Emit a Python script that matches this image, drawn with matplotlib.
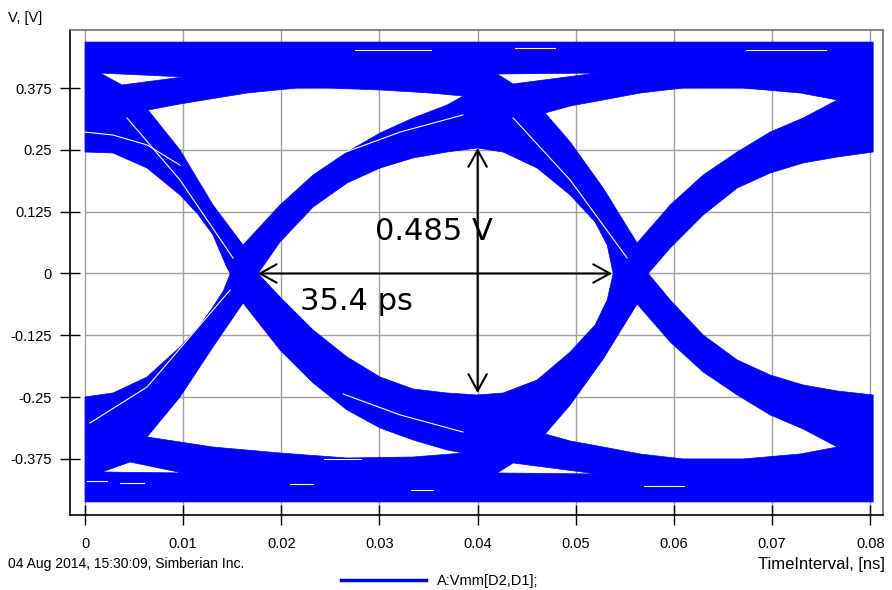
import numpy as np
import matplotlib.pyplot as plt
from matplotlib.path import Path
from matplotlib.patches import PathPatch
from matplotlib.lines import Line2D

plt.rcParams['font.family'] = ['Liberation Sans', 'DejaVu Sans']

# ticks
x_ticks = [0, 0.01, 0.02, 0.03, 0.04, 0.05, 0.06, 0.07, 0.08]
x_labels = ['0', '0.01', '0.02', '0.03', '0.04', '0.05', '0.06', '0.07', '0.08']
y_ticks = [0.375, 0.25, 0.125, 0, -0.125, -0.25, -0.375]
y_labels = ['0.375', '0.25', '0.125', '0', '-0.125', '-0.25', '-0.375']

# eye outline (t in ns, V in volts)
t_first, t_last = 0.0, 0.0803
v_top, v_bottom = 0.468, -0.462

# previous eye (cut in at the left edge), top -> crossing -> bottom
prev_eye_t = [0, 0.00285, 0.00632, 0.00968, 0.0115, 0.01304, 0.01447, 0.0148,
              0.0141, 0.01304, 0.0115, 0.00968, 0.00632, 0.00285, 0]
prev_eye_v = [0.2457, 0.2437, 0.2133, 0.1587, 0.12, 0.0779, 0.0111, 0,
              -0.035, -0.0677, -0.11, -0.1486, -0.2093, -0.2417, -0.2497]

# next eye (cut in at the right edge), top -> crossing -> bottom
next_eye_t = [0.0803, 0.07664, 0.07317, 0.06981, 0.06645, 0.06298, 0.05962, 0.05738,
              0.05962, 0.06298, 0.06645, 0.06981, 0.07317, 0.07664, 0.0803]
next_eye_v = [0.2457, 0.2356, 0.2235, 0.2032, 0.1729, 0.1183, 0.0516, 0,
              -0.0536, -0.1244, -0.1749, -0.2053, -0.2255, -0.2376, -0.2457]

# main eye opening
eye_t = [0.01763, 0.01987, 0.02324, 0.0267, 0.03006, 0.03343, 0.03689, 0.03995, 0.0426, 0.04606,
         0.04943, 0.05197, 0.0532, 0.05381, 0.0532, 0.05197, 0.04943, 0.04606, 0.0426, 0.03995,
         0.03689, 0.03343, 0.03006, 0.0267, 0.02324, 0.01987]
eye_v = [0, 0.0637, 0.1345, 0.183, 0.2133, 0.2336, 0.2457, 0.2538, 0.2457, 0.2133,
         0.1587, 0.1041, 0.0576, 0, -0.0536, -0.1041, -0.1587, -0.2154, -0.2417, -0.2457,
         -0.2417, -0.2336, -0.2093, -0.1689, -0.1143, -0.0475]

# white wedges between the rails and the transitions
wedge_ul_t = [0.00642, 0.00968, 0.01651, 0.0216, 0.02497, 0.03006, 0.03516, 0.03852, 0.03689,
              0.03343, 0.03006, 0.0267, 0.02324, 0.01987, 0.0161, 0.01304, 0.00968]
wedge_ul_v = [0.3306, 0.3428, 0.365, 0.3751, 0.3751, 0.3711, 0.365, 0.3589, 0.3407,
              0.3145, 0.2841, 0.2457, 0.1992, 0.1385, 0.0576, 0.1385, 0.2497]
wedge_ur_t = [0.04688, 0.04943, 0.05279, 0.05656, 0.06094, 0.06706, 0.07287, 0.07664, 0.07317,
              0.06981, 0.06645, 0.06298, 0.05962, 0.05625, 0.05279, 0.04943]
wedge_ur_v = [0.3246, 0.3387, 0.3509, 0.365, 0.3751, 0.3751, 0.365, 0.3509, 0.3145,
              0.2861, 0.2457, 0.1992, 0.1385, 0.0617, 0.1729, 0.2659]
wedge_ll_t = [0.00632, 0.01304, 0.01987, 0.0267, 0.03343, 0.03852, 0.03689, 0.03343, 0.03006,
              0.0267, 0.02324, 0.01987, 0.0161, 0.01304, 0.00968]
wedge_ll_v = [-0.3306, -0.351, -0.363, -0.3731, -0.3711, -0.363, -0.3569, -0.3367, -0.3124,
              -0.276, -0.2214, -0.1547, -0.0597, -0.1486, -0.2497]
wedge_lr_t = [0.04688, 0.04943, 0.05279, 0.05656, 0.06094, 0.06706, 0.07287, 0.07664, 0.07317,
              0.06981, 0.06645, 0.06298, 0.05962, 0.05625, 0.05279, 0.04943]
wedge_lr_v = [-0.3246, -0.3387, -0.3509, -0.365, -0.3751, -0.3751, -0.365, -0.3509, -0.3145,
              -0.2861, -0.2457, -0.1992, -0.1385, -0.0617, -0.1729, -0.2659]

# small gaps inside the rails
gap_t = [[0.00153, 0.00999, 0.00377], [0.04199, 0.05218, 0.04362],
         [0.00173, 0.00459, 0.00999], [0.04199, 0.05218, 0.04362]]
gap_v = [[0.4054, 0.3974, 0.3812], [0.4034, 0.4054, 0.3832],
         [-0.4014, -0.3812, -0.4034], [-0.4034, -0.4054, -0.3832]]

# thin white streaks
streak_t = [[0.00428, 0.00968, 0.01508], [0.04362, 0.04943, 0.05523],
            [0.00051, 0.00632, 0.01478], [0.0, 0.00285, 0.00632, 0.00968],
            [0.0263, 0.0321, 0.0385], [0.0263, 0.0321, 0.0385],
            [0.0275, 0.0352], [0.0673, 0.0755], [0.0438, 0.0479],
            [0.0002, 0.0022], [0.0036, 0.006], [0.0209, 0.0232], [0.0332, 0.0355],
            [0.0243, 0.0281], [0.0570, 0.0610]]
streak_v = [[0.3145, 0.189, 0.0313], [0.3145, 0.189, 0.0313],
            [-0.3023, -0.2295, -0.0334], [0.286, 0.28, 0.26, 0.219],
            [0.2437, 0.286, 0.3206], [-0.2437, -0.286, -0.3206],
            [0.452, 0.452], [0.452, 0.452], [0.456, 0.456],
            [-0.42, -0.42], [-0.424, -0.424], [-0.426, -0.426], [-0.437, -0.437],
            [-0.375, -0.375], [-0.43, -0.43]]


def ring(t, v, clockwise):
    pts = np.column_stack([t, v])
    area = np.sum(pts[:, 0] * np.roll(pts[:, 1], -1) - np.roll(pts[:, 0], -1) * pts[:, 1])
    if (area < 0) != clockwise:
        pts = pts[::-1]
    return pts


outer_t = [t_first] + prev_eye_t + [t_first, t_last] + next_eye_t[::-1] + [t_last]
outer_v = [v_top] + prev_eye_v + [v_bottom, v_bottom] + next_eye_v[::-1] + [v_top]

rings = [ring(outer_t, outer_v, False), ring(eye_t, eye_v, True),
         ring(wedge_ul_t, wedge_ul_v, True), ring(wedge_ur_t, wedge_ur_v, True),
         ring(wedge_ll_t, wedge_ll_v, True), ring(wedge_lr_t, wedge_lr_v, True)]
for gt, gv in zip(gap_t, gap_v):
    rings.append(ring(gt, gv, True))

verts, codes = [], []
for r in rings:
    verts.extend(r.tolist() + [r[0].tolist()])
    codes.extend([Path.MOVETO] + [Path.LINETO] * (len(r) - 1) + [Path.CLOSEPOLY])

fig = plt.figure(figsize=(8.92, 5.90), dpi=100)
ax = fig.add_axes([70 / 892, 1 - 515 / 590, 813 / 892, 485 / 590])

for xt in x_ticks:
    ax.axvline(xt, color='#a0a0a0', lw=1, zorder=0.5)
ax.hlines(y_ticks, 0, 0.08, color='#a0a0a0', lw=1, zorder=0.5)

ax.add_patch(PathPatch(Path(verts, codes), facecolor='#0000ff', edgecolor='#0000ff', lw=0.5, zorder=1))
for st, sv in zip(streak_t, streak_v):
    ax.plot(st, sv, color='white', lw=0.8, zorder=1.5)

ax.set_xlim(-0.00153, 0.0813)
ax.set_ylim(-0.4884, 0.4924)
ax.set_xticks(x_ticks)
ax.set_xticklabels(x_labels)
ax.set_yticks(y_ticks)
ax.set_yticklabels(y_labels)
ax.tick_params(direction='inout', length=14, width=1, color='black', labelsize=10.5)
ax.tick_params(axis='x', pad=9)
ax.tick_params(axis='y', pad=6)
for s in ['left', 'bottom']:
    ax.spines[s].set_color('black')
    ax.spines[s].set_linewidth(1.2)
for s in ['top', 'right']:
    ax.spines[s].set_color('#707070')
    ax.spines[s].set_linewidth(1.2)

arrow = dict(arrowstyle='<->,head_length=0.6,head_width=0.33', lw=1.5, color='black',
             mutation_scale=20, shrinkA=0, shrinkB=0)
ax.annotate('', xy=(0.04, 0.2538), xytext=(0.04, -0.2417), arrowprops=arrow, zorder=3)
ax.annotate('', xy=(0.0176, 0), xytext=(0.0537, 0), arrowprops=arrow, zorder=3)
ax.text(0.02955, 0.0677, '0.485 V', fontsize=22, family='DejaVu Sans', va='baseline', zorder=3)
ax.text(0.0219, -0.0738, '35.4 ps', fontsize=22, family='DejaVu Sans', va='baseline', zorder=3)

fig.text(8 / 892, 1 - 18 / 590, 'V, [V]', fontsize=10.5, va='center')
fig.text(8 / 892, 1 - 564 / 590, '04 Aug 2014, 15:30:09, Simberian Inc.', fontsize=10, va='center')
fig.text(885 / 892, 1 - 564 / 590, 'TimeInterval, [ns]', fontsize=12, ha='right', va='center')
fig.legend(handles=[Line2D([], [], color='#0000ff', lw=2.5)], labels=['A:Vmm[D2,D1];'],
           loc='center', bbox_to_anchor=(440 / 892, 1 - 581 / 590), frameon=False,
           fontsize=10.5, handlelength=5.8, handletextpad=0.75)

fig.savefig('out.png', dpi=100)
